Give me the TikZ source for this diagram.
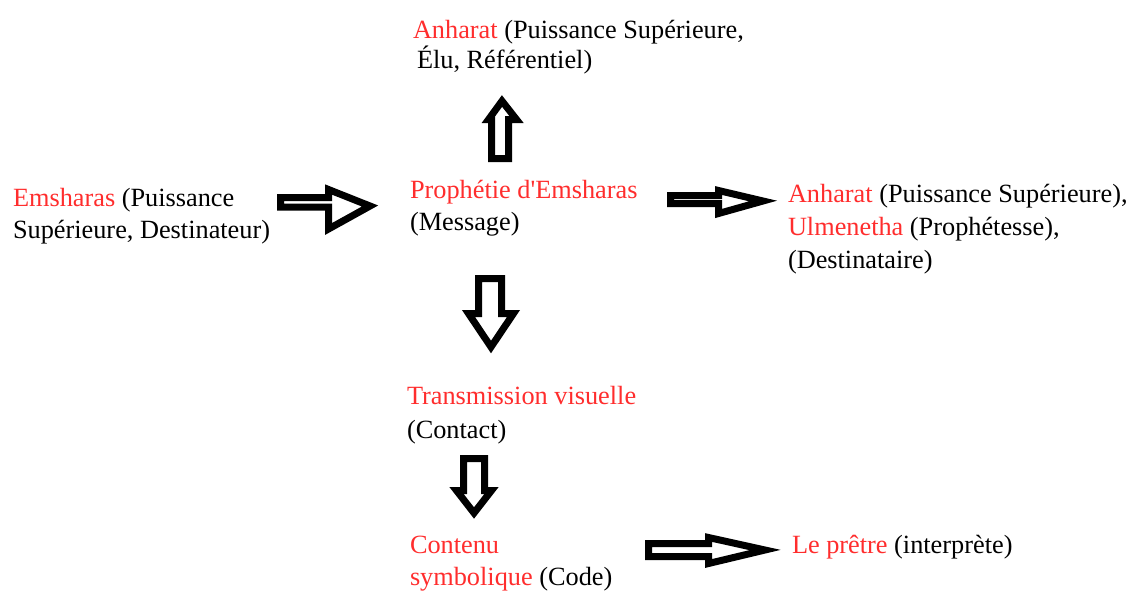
\documentclass[tikz,border=0pt]{standalone}
\usepackage{fontspec}
\setmainfont{Liberation Serif}
\definecolor{txtred}{RGB}{255,45,45}
\tikzset{
  lbl/.style={anchor=base west, inner sep=0pt, outer sep=0pt, align=left, font=\fontsize{26.3}{32}\selectfont},
  blockarrow/.style={draw=black, line width=7pt, line join=miter, miter limit=10, fill=white}
}
\newcommand{\rd}[1]{\textcolor{txtred}{#1}}
\begin{document}
\begin{tikzpicture}[x=1pt,y=-1pt]
\useasboundingbox (0,0) rectangle (1132,590);
% texts (anchor = baseline of last line)
\node[lbl, font=\fontsize{26.3}{30}\selectfont] (top) at (413,68) {\rd{Anharat} (Puissance Supérieure,\\\hspace*{4pt}Élu, Référentiel)};
\node[lbl] (emsh) at (13,238) {\rd{Emsharas} (Puissance\\Supérieure, Destinateur)};
\node[lbl] (proph) at (410,230) {\rd{Prophétie d\textquotesingle Emsharas}\\(Message)};
\node[lbl, font=\fontsize{26.3}{33}\selectfont] (dest) at (788,268) {\rd{Anharat} (Puissance Supérieure),\\\rd{Ulmenetha} (Prophétesse),\\(Destinataire)};
\node[lbl, font=\fontsize{26.3}{34}\selectfont] (trans) at (407,438) {\rd{Transmission visuelle}\\(Contact)};
\node[lbl] (cont) at (410,585) {\rd{Contenu}\\\rd{symbolique} (Code)};
\node[lbl] (pretre) at (792,553) {\rd{Le prêtre} (interprète)};
% arrows
% left arrow (Emsharas -> Prophetie)
\draw[blockarrow] (280.5,197.5) -- (328.5,197.5) -- (328.5,189.5) -- (370,206) -- (328.5,229) -- (328.5,207) -- (280.5,207) -- cycle;
% up arrow (Prophetie -> Anharat)
\draw[blockarrow] (491.5,158.5) -- (491.5,119.5) -- (488.5,119.5) -- (502,101) -- (516.5,119.5) -- (508.5,119.5) -- (508.5,158.5) -- cycle;
% right arrow (Prophetie -> Destinataire)
\draw[blockarrow] (670.5,195.5) -- (718.5,195.5) -- (718.5,190.5) -- (763,201) -- (718.5,213.5) -- (718.5,203.5) -- (670.5,203.5) -- cycle;
% down arrow 1 (Prophetie -> Transmission)
\draw[blockarrow] (478.5,278.5) -- (501.5,278.5) -- (501.5,313.5) -- (513.5,313.5) -- (491,347) -- (468.5,313.5) -- (478.5,313.5) -- cycle;
% down arrow 2 (Transmission -> Contenu)
\draw[blockarrow] (463.5,458.5) -- (484.5,458.5) -- (484.5,490.5) -- (491.5,490.5) -- (474,513) -- (456.5,490.5) -- (463.5,490.5) -- cycle;
% bottom right arrow (Contenu -> Le pretre)
\draw[blockarrow] (648.5,543.5) -- (708.5,543.5) -- (708.5,537.5) -- (765,550) -- (708.5,563.5) -- (708.5,556.5) -- (648.5,556.5) -- cycle;
\end{tikzpicture}
\end{document}
